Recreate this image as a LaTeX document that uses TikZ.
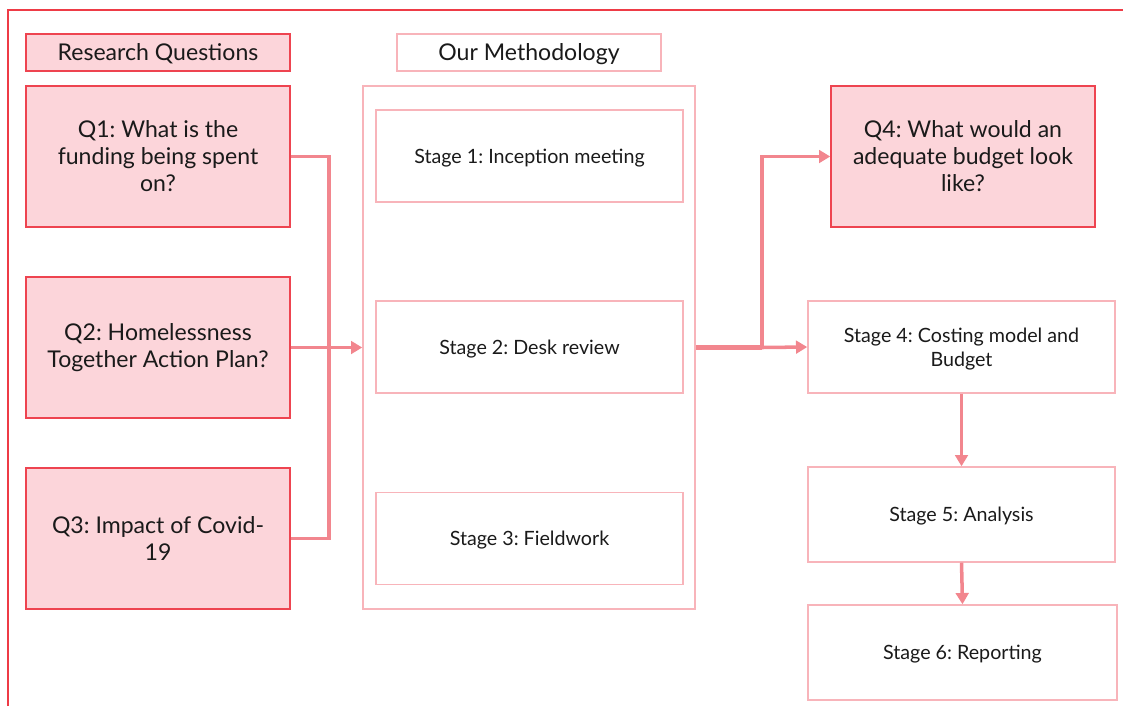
\documentclass[tikz,border=0pt]{standalone}
\usepackage{fontspec}
\setmainfont{Lato}
\frenchspacing
\usetikzlibrary{arrows.meta}
\definecolor{framered}{HTML}{EE3B46}
\definecolor{qpink}{HTML}{FCD5DA}
\definecolor{qred}{HTML}{EE4450}
\definecolor{stagepink}{HTML}{F8B4BA}
\definecolor{linkpink}{HTML}{F2868E}
\definecolor{txt}{HTML}{1A1A1A}

\begin{document}
\begin{tikzpicture}[x=0.025cm,y=-0.025cm,
    qbox/.style={draw=qred, fill=qpink, line width=1pt, minimum width=6.6cm, align=center, text=txt, inner sep=0pt, font=\fontsize{16.4}{19.2}\selectfont},
    headbox/.style={qbox, minimum height=0.925cm, text depth=0pt},
    stagebox/.style={draw=stagepink, line width=1pt, minimum width=7.675cm, minimum height=2.3cm, align=center, text=txt, inner sep=0pt, text depth=0pt, font=\fontsize{14}{17.3}\selectfont},
    link/.style={draw=linkpink, line width=2.5pt},
    tip/.style={-{Triangle[length=8pt,width=9pt]}}]
        \useasboundingbox (0,0) rectangle (1123,706);
        \draw[framered, line width=1.2pt] (8,706) -- (8,10) -- (1123,10);

        % research questions
        \node[headbox] (rqhead) at (158,52.5) {Research Questions};
        \node[qbox, minimum height=3.525cm] (q1) at (158,156.5) {Q1: What is the\\funding being spent\\on?};
        \node[qbox, minimum height=3.525cm] (q2) at (158,347.5) {Q2: Homelessness\\Together Action Plan?};
        \node[qbox, minimum height=3.525cm] (q3) at (158,538.5) {Q3: Impact of Covid-\\19};

        % methodology
        \node[headbox, fill=white, draw=stagepink] (mhead) at (529,52.5) {Our Methodology};
        \node[draw=stagepink, line width=1pt, minimum width=8.3cm, minimum height=13.075cm] (method) at (529,347.5) {};
        \node[stagebox] (s1) at (529.5,156) {Stage 1: Inception meeting};
        \node[stagebox] (s2) at (529.5,347) {Stage 2: Desk review};
        \node[stagebox] (s3) at (529.5,538.5) {Stage 3: Fieldwork};

        \node[qbox, minimum height=3.525cm] (q4) at (963,156.5) {Q4: What would an\\adequate budget look\\like?};
        \node[stagebox] (s4) at (961.5,347) {Stage 4: Costing model and\\Budget};
        \node[stagebox, minimum height=2.375cm] (s5) at (961.5,514.5) {Stage 5: Analysis};
        \node[stagebox, minimum width=7.725cm, minimum height=2.375cm] (s6) at (962.5,652.5) {Stage 6: Reporting};

        % links
        \draw[link] (q1.east) -- ++(38,0) |- (q3.east);
        \draw[link, tip] (q2.east) -- (method.west);
        \coordinate (split) at (762,347.5);
        \draw[link, line width=4pt] (method.east) -- (split);
        \draw[link, tip] (split) |- (q4.west);
        \draw[link, tip] (split) -- (s4.west);
        \draw[link, tip] (s4.south) -- (s5.north);
        \draw[link, tip] (s5.south) -- (s6.north);
    \end{tikzpicture}
\end{document}
